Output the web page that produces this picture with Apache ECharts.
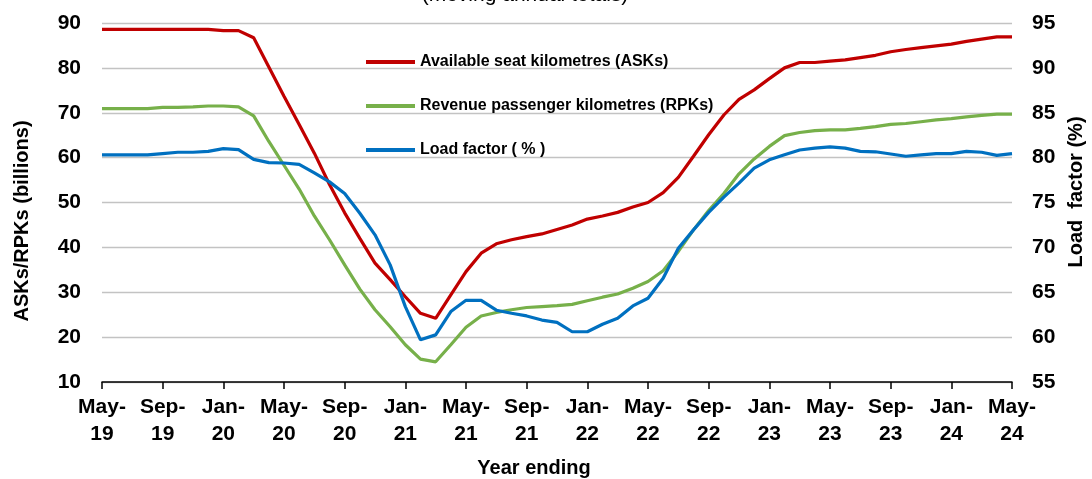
<!DOCTYPE html>
<html>
<head>
<meta charset="utf-8">
<script src="https://cdn.jsdelivr.net/npm/echarts@6/dist/echarts.min.js"></script>
<style>
html,body{margin:0;padding:0;background:#fff;}
#chart{width:1092px;height:479px;}
</style>
</head>
<body>
<div id="chart"></div>
<script>
const categories = ['May-19','Jun-19','Jul-19','Aug-19','Sep-19','Oct-19','Nov-19','Dec-19',
'Jan-20','Feb-20','Mar-20','Apr-20','May-20','Jun-20','Jul-20','Aug-20','Sep-20','Oct-20','Nov-20','Dec-20',
'Jan-21','Feb-21','Mar-21','Apr-21','May-21','Jun-21','Jul-21','Aug-21','Sep-21','Oct-21','Nov-21','Dec-21',
'Jan-22','Feb-22','Mar-22','Apr-22','May-22','Jun-22','Jul-22','Aug-22','Sep-22','Oct-22','Nov-22','Dec-22',
'Jan-23','Feb-23','Mar-23','Apr-23','May-23','Jun-23','Jul-23','Aug-23','Sep-23','Oct-23','Nov-23','Dec-23',
'Jan-24','Feb-24','Mar-24','Apr-24','May-24'];

const asks = [88.6,88.6,88.6,88.6,88.6,88.6,88.6,88.6,
88.3,88.3,86.7,80.2,73.7,67.4,61.0,54.0,47.7,42.0,36.5,32.8,
29.0,25.3,24.2,29.4,34.6,38.7,40.8,41.7,42.4,43.0,44.0,45.0,
46.3,47.0,47.8,49.0,50.0,52.2,55.6,60.3,65.1,69.5,73.0,75.1,
77.6,80.0,81.2,81.2,81.5,81.8,82.3,82.8,83.6,84.1,84.5,84.9,
85.3,85.9,86.4,86.9,86.9];

const rpks = [70.9,70.9,70.9,70.9,71.2,71.2,71.3,71.5,
71.5,71.3,69.3,63.6,58.3,53.0,47.0,41.7,36.1,30.7,26.1,22.3,
18.3,15.1,14.5,18.3,22.2,24.7,25.5,26.1,26.6,26.8,27.0,27.3,
28.1,28.9,29.6,30.9,32.4,34.8,39.1,43.9,48.2,52.0,56.4,59.7,
62.5,64.9,65.6,66.0,66.2,66.2,66.5,66.9,67.4,67.6,68.0,68.4,
68.7,69.1,69.4,69.7,69.7];

const loadFactor = [80.3,80.3,80.3,80.3,80.45,80.6,80.6,80.7,
81.0,80.9,79.8,79.45,79.4,79.25,78.3,77.3,76.0,73.8,71.4,68.05,
63.4,59.7,60.25,62.85,64.1,64.1,63.0,62.66,62.36,61.9,61.65,60.6,
60.6,61.43,62.1,63.48,64.33,66.56,69.9,71.95,73.9,75.6,77.16,78.83,
79.76,80.32,80.85,81.06,81.2,81.06,80.7,80.65,80.4,80.15,80.3,80.45,
80.45,80.7,80.6,80.25,80.45];

const seriesNames = ['Available seat kilometres (ASKs)','Revenue passenger kilometres (RPKs)','Load factor ( % )'];
const leftTicks = {min:10, max:90, interval:10};
const rightTicks = {min:55, max:95, interval:5};

const FONT = '"Liberation Sans", Arial, sans-serif';
const chart = echarts.init(document.getElementById('chart'), null, {renderer:'canvas'});
chart.setOption({
  animation:false,
  backgroundColor:'#ffffff',
  textStyle:{fontFamily:FONT},
  grid:{left:102, right:80, top:23, bottom:97, containLabel:false},
  legend:{
    orient:'vertical', left:361, top:47, itemGap:24,
    icon:'rect', itemWidth:49, itemHeight:4,
    textStyle:{fontFamily:FONT, fontWeight:'bold', fontSize:16, color:'#000', lineHeight:20},
    data:seriesNames
  },
  xAxis:{
    type:'category', data:categories, boundaryGap:false,
    axisLine:{lineStyle:{color:'#000', width:1.5}},
    axisTick:{show:true, interval:3, length:7, inside:false, lineStyle:{color:'#000', width:1.5}},
    axisLabel:{interval:3, color:'#000', fontFamily:FONT, fontWeight:'bold', fontSize:21, lineHeight:27, margin:12,
      formatter:v=>v.replace('-', '-\n')},
    splitLine:{show:false}
  },
  yAxis:[{
    type:'value', min:leftTicks.min, max:leftTicks.max, interval:leftTicks.interval,
    axisLine:{show:false}, axisTick:{show:false},
    axisLabel:{color:'#000', fontFamily:FONT, fontWeight:'bold', fontSize:21, margin:21},
    splitLine:{lineStyle:{color:'#c3c3c3', width:1.3}}
  },{
    type:'value', min:rightTicks.min, max:rightTicks.max, interval:rightTicks.interval, position:'right',
    axisLine:{show:false}, axisTick:{show:false},
    axisLabel:{color:'#000', fontFamily:FONT, fontWeight:'bold', fontSize:21, margin:20},
    splitLine:{show:false}
  }],
  graphic:[
    {type:'text', style:{text:'(moving annual totals)', fill:'#000', font:'21px '+FONT, x:525, y:-5, textAlign:'center', textVerticalAlign:'middle'}},
    {type:'text', style:{text:'Year ending', fill:'#000', font:'bold 20px '+FONT, x:534, y:468, textAlign:'center', textVerticalAlign:'middle'}},
    {type:'text', x:22, y:221, rotation:Math.PI/2, style:{text:'ASKs/RPKs (billions)', fill:'#000', font:'bold 20px '+FONT, textAlign:'center', textVerticalAlign:'middle'}},
    {type:'text', x:1076, y:192, rotation:Math.PI/2, style:{text:'Load  factor (%)', fill:'#000', font:'bold 20px '+FONT, textAlign:'center', textVerticalAlign:'middle'}}
  ],
  series:[
    {name:seriesNames[0], type:'line', data:asks, yAxisIndex:0, symbol:'none', smooth:false,
      lineStyle:{color:'#c00000', width:3.2}, itemStyle:{color:'#c00000'}},
    {name:seriesNames[1], type:'line', data:rpks, yAxisIndex:0, symbol:'none',
      lineStyle:{color:'#77b04a', width:3.2}, itemStyle:{color:'#77b04a'}},
    {name:seriesNames[2], type:'line', data:loadFactor, yAxisIndex:1, symbol:'none',
      lineStyle:{color:'#0070c0', width:3.2}, itemStyle:{color:'#0070c0'}}
  ]
});
</script>
</body>
</html>
